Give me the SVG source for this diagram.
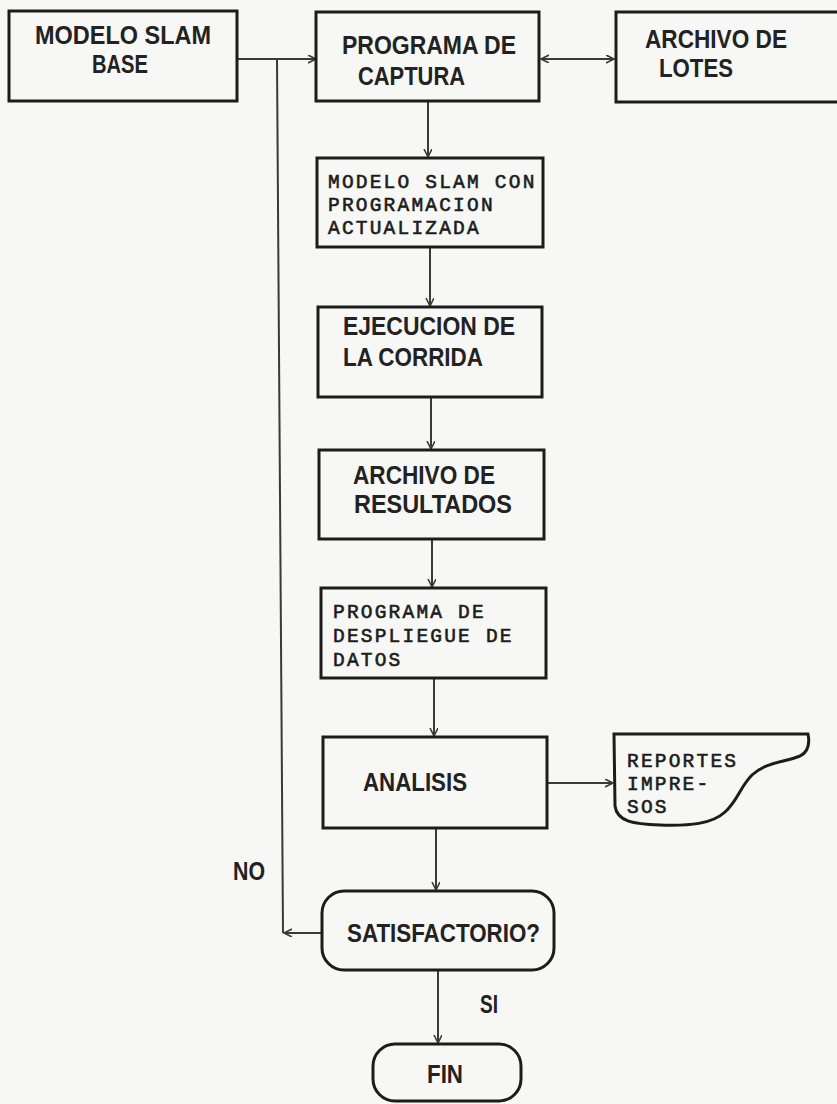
<svg xmlns="http://www.w3.org/2000/svg" width="837" height="1104" viewBox="0 0 837 1104">
<style>
.box{fill:none;stroke:#1c1c1c;stroke-width:3}
.sans{font-family:"Liberation Sans",Arial,sans-serif;font-size:25px;font-weight:bold;fill:#222}
.mono{font-family:"Liberation Mono","DejaVu Sans Mono",monospace;font-size:19.5px;letter-spacing:2.2px;fill:#1c1c1c;stroke:#1c1c1c;stroke-width:0.6}
.conn{fill:none;stroke:#3a3a3a;stroke-width:2}
</style>
<defs>
<marker id="arr" markerUnits="userSpaceOnUse" markerWidth="10" markerHeight="10" refX="8" refY="4" orient="auto-start-reverse">
<path d="M0,0 L8,4 L0,8" fill="none" stroke="#3a3a3a" stroke-width="1.6"/>
</marker>
</defs>
<rect width="837" height="1104" fill="#f7f7f5"/>
<g id="connectors">
<path class="conn" d="M237,59 L316,59" marker-end="url(#arr)"/>
<path class="conn" d="M541,59 L614,59" marker-start="url(#arr)" marker-end="url(#arr)"/>
<path class="conn" d="M428,101 L428,157" marker-end="url(#arr)"/>
<path class="conn" d="M430,247 L430,306" marker-end="url(#arr)"/>
<path class="conn" d="M431,397 L431,449" marker-end="url(#arr)"/>
<path class="conn" d="M432,539 L432,587" marker-end="url(#arr)"/>
<path class="conn" d="M434,678 L434,736" marker-end="url(#arr)"/>
<path class="conn" d="M547,783 L613,783" marker-end="url(#arr)"/>
<path class="conn" d="M436,828 L436,890" marker-end="url(#arr)"/>
<path class="conn" d="M438,970 L438,1043" marker-end="url(#arr)"/>
<path class="conn" d="M277,59 L283,933"/>
<path class="conn" d="M322,933 L284,933" marker-end="url(#arr)"/>
</g>
<g id="modelo-base">
<rect class="box" x="9" y="11" width="228" height="90"/>
<text class="sans" x="35" y="44" textLength="176" lengthAdjust="spacingAndGlyphs">MODELO SLAM</text>
<text class="sans" x="92" y="73" textLength="56" lengthAdjust="spacingAndGlyphs">BASE</text>
</g>
<g id="programa-captura">
<rect class="box" x="316" y="12" width="223" height="89"/>
<text class="sans" x="342" y="54" textLength="174" lengthAdjust="spacingAndGlyphs">PROGRAMA DE</text>
<text class="sans" x="358" y="85" textLength="107" lengthAdjust="spacingAndGlyphs">CAPTURA</text>
</g>
<g id="archivo-lotes">
<rect class="box" x="616" y="12" width="230" height="90"/>
<text class="sans" x="645" y="48" textLength="142" lengthAdjust="spacingAndGlyphs">ARCHIVO DE</text>
<text class="sans" x="659" y="77" textLength="74" lengthAdjust="spacingAndGlyphs">LOTES</text>
</g>
<g id="modelo-actualizado">
<rect class="box" x="317" y="158" width="226" height="89"/>
<text class="mono" x="328" y="188">MODELO SLAM CON</text>
<text class="mono" x="328" y="211">PROGRAMACION</text>
<text class="mono" x="328" y="234">ACTUALIZADA</text>
</g>
<g id="ejecucion">
<rect class="box" x="318" y="307" width="224" height="90"/>
<text class="sans" x="343" y="335" textLength="172" lengthAdjust="spacingAndGlyphs">EJECUCION DE</text>
<text class="sans" x="343" y="366" textLength="140" lengthAdjust="spacingAndGlyphs">LA CORRIDA</text>
</g>
<g id="archivo-resultados">
<rect class="box" x="319" y="450" width="225" height="89"/>
<text class="sans" x="353" y="484" textLength="142" lengthAdjust="spacingAndGlyphs">ARCHIVO DE</text>
<text class="sans" x="354" y="513" textLength="158" lengthAdjust="spacingAndGlyphs">RESULTADOS</text>
</g>
<g id="despliegue">
<rect class="box" x="321" y="588" width="225" height="90"/>
<text class="mono" x="333" y="618">PROGRAMA DE</text>
<text class="mono" x="333" y="642">DESPLIEGUE DE</text>
<text class="mono" x="333" y="666">DATOS</text>
</g>
<g id="analisis">
<rect class="box" x="323" y="737" width="224" height="91"/>
<text class="sans" x="363" y="791" textLength="104" lengthAdjust="spacingAndGlyphs">ANALISIS</text>
</g>
<g id="reportes">
<path class="box" d="M614,734 L808,734 C810,744 808,752 800,756 C786,762 766,762 752,775 C740,787 738,800 725,812 C712,824 690,826 660,825 C634,824 617,822 615,806 Z"/>
<text class="mono" x="627" y="767">REPORTES</text>
<text class="mono" x="627" y="790">IMPRE-</text>
<text class="mono" x="627" y="813">SOS</text>
</g>
<g id="satisfactorio">
<rect class="box" x="322" y="891" width="232" height="79" rx="22" ry="22"/>
<text class="sans" x="347" y="942" textLength="193" lengthAdjust="spacingAndGlyphs">SATISFACTORIO?</text>
</g>
<g id="fin">
<rect class="box" x="373" y="1044" width="148" height="57" rx="22" ry="22"/>
<text class="sans" x="427" y="1083" textLength="36" lengthAdjust="spacingAndGlyphs">FIN</text>
</g>
<g id="labels">
<text class="sans" x="233" y="880" textLength="32" lengthAdjust="spacingAndGlyphs">NO</text>
<text class="sans" x="480" y="1013" textLength="18" lengthAdjust="spacingAndGlyphs">SI</text>
</g>
</svg>
